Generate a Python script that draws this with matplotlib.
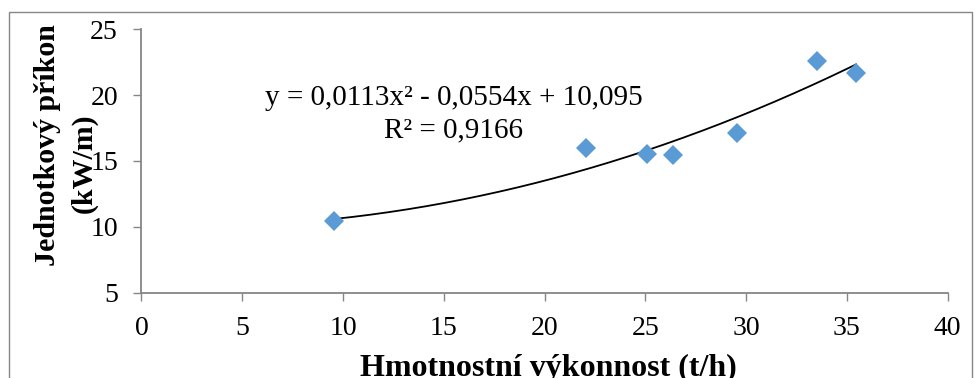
import numpy as np
import matplotlib.pyplot as plt
from matplotlib.patches import Rectangle

# data
vykon = [9.55, 22.05, 25.1, 26.35, 29.55, 33.5, 35.45]
prikon = [10.45, 16.0, 15.55, 15.45, 17.1, 22.6, 21.7]

# quadratic trendline (as printed on the chart)
coef = [0.0113, -0.0554, 10.095]
rovnice = 'y = 0,0113x² - 0,0554x + 10,095'
r2 = 'R² = 0,9166'

x_ticks = [0, 5, 10, 15, 20, 25, 30, 35, 40]
y_ticks = [5, 10, 15, 20, 25]

plt.rcParams['font.family'] = ['Liberation Serif', 'DejaVu Serif']

fig = plt.figure(figsize=(9.78, 3.78), dpi=100)
ax = fig.add_axes([141.5/978, 1 - 292.7/378, (947.7 - 141.5)/978, (292.7 - 29.3)/378])

xs = np.linspace(min(vykon), max(vykon), 200)
ax.plot(xs, np.polyval(coef, xs), color='black', lw=1.3, zorder=2)
ax.plot(vykon, prikon, 'D', color='#5B9BD5', ms=9.8, mew=0, zorder=3)

ax.set_xlim(0, 40)
ax.set_ylim(5, 25)
ax.set_xticks(x_ticks)
ax.set_yticks(y_ticks)
ax.tick_params(direction='out', length=6, width=1, color='#868686',
               labelsize=20, pad=11)
for s in ['top', 'right']:
    ax.spines[s].set_visible(False)
for s in ['left', 'bottom']:
    ax.spines[s].set_color('#868686')
    ax.spines[s].set_linewidth(1.3)

ax.text(15.5, 19.25, rovnice, fontsize=21, ha='center', va='baseline')
ax.text(15.5, 16.8, r2, fontsize=21, ha='center', va='baseline')

fig.text(48/978, 1 - 145/378, 'Jednotkový příkon', rotation=90, fontsize=21.5,
         fontweight='bold', ha='center', va='center')
fig.text(84/978, 1 - 163/378, '(kW/m)', rotation=90, fontsize=21.5,
         fontweight='bold', ha='center', va='center')
fig.text(548/978, 1 - 376/378, 'Hmotnostní výkonnost (t/h)', fontsize=23,
         fontweight='bold', ha='center', va='baseline')

# outer chart border
fig.patches.append(Rectangle((8.5/978, -0.1), (972 - 8.5)/978, 1.1 - 11.7/378,
                             transform=fig.transFigure, fill=False,
                             edgecolor='#868686', lw=1.0))

fig.savefig('out.png', dpi=100)
